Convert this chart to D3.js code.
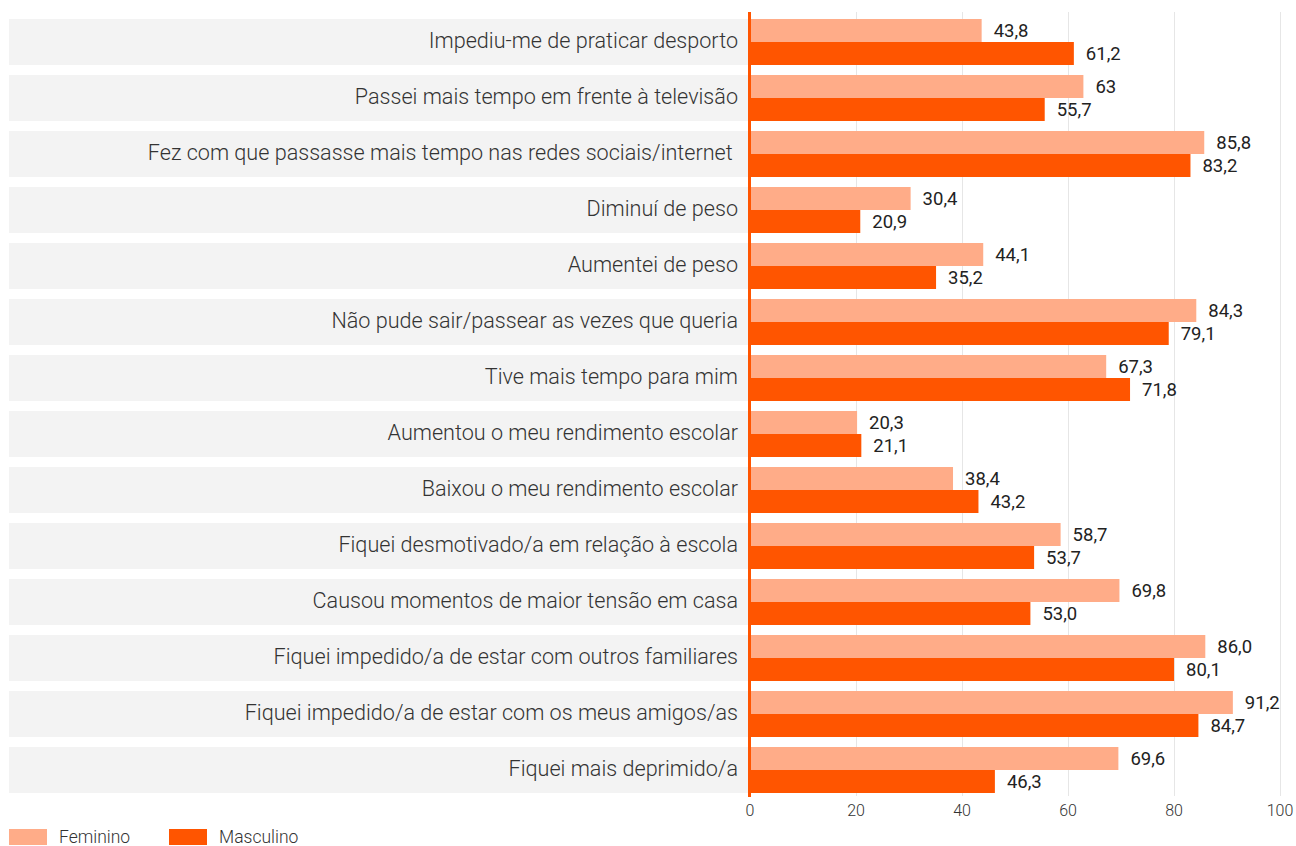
<!DOCTYPE html>
<html>
<head>
<meta charset="utf-8">
<script src="https://cdn.jsdelivr.net/npm/d3@7"></script>
<style>
  html, body { margin: 0; padding: 0; background: #fff; }
  svg { display: block; font-family: Roboto, "Open Sans", sans-serif; }
</style>
</head>
<body>
<svg id="chart" width="1296" height="846"></svg>
<script>
// Survey items, top to bottom
const categories = [
  "Impediu-me de praticar desporto",
  "Passei mais tempo em frente à televisão",
  "Fez com que passasse mais tempo nas redes sociais/internet ",
  "Diminuí de peso",
  "Aumentei de peso",
  "Não pude sair/passear as vezes que queria",
  "Tive mais tempo para mim",
  "Aumentou o meu rendimento escolar",
  "Baixou o meu rendimento escolar",
  "Fiquei desmotivado/a em relação à escola",
  "Causou momentos de maior tensão em casa",
  "Fiquei impedido/a de estar com outros familiares",
  "Fiquei impedido/a de estar com os meus amigos/as",
  "Fiquei mais deprimido/a"
];

// Percentages as printed on the bars (pt-PT decimal comma)
const femininoLabels  = ["43,8", "63", "85,8", "30,4", "44,1", "84,3", "67,3", "20,3", "38,4", "58,7", "69,8", "86,0", "91,2", "69,6"];
const masculinoLabels = ["61,2", "55,7", "83,2", "20,9", "35,2", "79,1", "71,8", "21,1", "43,2", "53,7", "53,0", "80,1", "84,7", "46,3"];

const seriesNames = ["Feminino", "Masculino"];
const seriesColors = ["#ffac88", "#ff5500"];
const xTicks = [0, 20, 40, 60, 80, 100];

const parse = s => +s.replace(",", ".");
const series = [femininoLabels, masculinoLabels].map((labels, i) => ({
  name: seriesNames[i],
  color: seriesColors[i],
  points: labels.map((lab, j) => ({ cat: categories[j], label: lab, value: parse(lab) }))
}));

const svg = d3.select("#chart");

const x = d3.scaleLinear().domain([0, 100]).range([749.5, 1279.5]);
const y = d3.scaleBand().domain(categories).range([14, 798]).paddingInner(10 / 56).paddingOuter(5 / 56);
const ySub = d3.scaleBand().domain(seriesNames).range([0, y.bandwidth()]);

// Gray label panels
svg.append("g").selectAll("rect")
  .data(categories)
  .join("rect")
  .attr("x", 9)
  .attr("y", d => y(d))
  .attr("width", x(0) - 9 - 1.5)
  .attr("height", y.bandwidth())
  .attr("fill", "#f3f3f3");

// Vertical grid lines
svg.append("g").selectAll("line")
  .data(xTicks.slice(1))
  .join("line")
  .attr("x1", d => Math.round(x(d)) + 0.5)
  .attr("x2", d => Math.round(x(d)) + 0.5)
  .attr("y1", 12)
  .attr("y2", 796)
  .attr("stroke", "#e6e6e6")
  .attr("stroke-width", 1);

// Category labels
svg.append("g").selectAll("text")
  .data(categories)
  .join("text")
  .attr("x", 738)
  .attr("y", d => y(d) + y.bandwidth() / 2 + 5.5)
  .attr("text-anchor", "end")
  .attr("font-size", 21.6)
  .attr("font-weight", 300)
  .attr("fill", "#333")
  .style("white-space", "pre")
  .text(d => d);

// Bars
const groups = svg.append("g").selectAll("g")
  .data(series)
  .join("g")
  .attr("fill", d => d.color);

groups.selectAll("rect")
  .data(d => d.points.map(p => ({ ...p, name: d.name })))
  .join("rect")
  .attr("x", x(0))
  .attr("y", d => y(d.cat) + ySub(d.name))
  .attr("width", d => x(d.value) - x(0))
  .attr("height", ySub.bandwidth());

// Value labels
svg.append("g").selectAll("g")
  .data(series)
  .join("g")
  .selectAll("text")
  .data(d => d.points.map(p => ({ ...p, name: d.name })))
  .join("text")
  .attr("x", d => x(d.value) + 12)
  .attr("y", d => y(d.cat) + ySub(d.name) + ySub.bandwidth() / 2 + 6)
  .attr("font-size", 18.5)
  .attr("fill", "#222")
  .text(d => d.label);

// Zero axis line
svg.append("line")
  .attr("x1", x(0)).attr("x2", x(0))
  .attr("y1", 12).attr("y2", 797)
  .attr("stroke", "#ff5500")
  .attr("stroke-width", 3);

// Bottom axis tick labels
const xAxis = d3.axisBottom(x).tickValues(xTicks).tickSize(0).tickPadding(0).tickFormat(d3.format("d"));
const axisG = svg.append("g").attr("transform", "translate(0,806)").call(xAxis);
axisG.select(".domain").remove();
axisG.selectAll("text")
  .attr("font-family", "Roboto, sans-serif")
  .attr("font-size", 16)
  .attr("font-weight", 300)
  .attr("fill", "#333")
  .attr("dy", "0.71em")
  .attr("y", -1);

// Legend
const legend = svg.append("g").selectAll("g")
  .data(series)
  .join("g")
  .attr("transform", (d, i) => `translate(${9 + i * 160},829)`);
legend.append("rect")
  .attr("width", 38).attr("height", 16)
  .attr("fill", d => d.color);
legend.append("text")
  .attr("x", 50)
  .attr("y", 13.5)
  .attr("font-size", 17.5)
  .attr("font-weight", 300)
  .attr("fill", "#333")
  .text(d => d.name);
</script>
</body>
</html>
